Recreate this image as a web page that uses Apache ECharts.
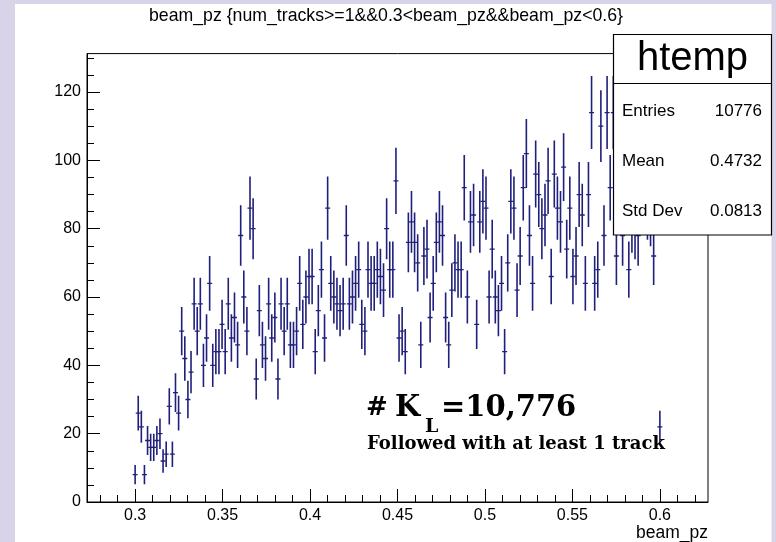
<!DOCTYPE html>
<html>
<head>
<meta charset="utf-8">
<script src="https://cdn.jsdelivr.net/npm/echarts@6/dist/echarts.min.js"></script>
<style>
  html, body { margin: 0; padding: 0; background: #ffffff; }
  #chart { width: 776px; height: 542px; }
</style>
</head>
<body>
<div id="chart"></div>
<script>
// Histogram of beam_pz: bin centres start at FIRST_CENTER, spaced by BIN_WIDTH
const FIRST_CENTER = 0.3;
const BIN_WIDTH = 0.3 / 169;
const X_MIN = 0.272485;
const X_MAX = 0.627515;
const Y_MAX = 131.25;

// Entries per bin
const counts = [
  8, 26, 22, 8, 18, 16, 16, 18, 20, 12,
  14, 28, 14, 32, 26, 50, 42, 30, 38, 58,
  50, 58, 40, 48, 64, 40, 44, 44, 52, 44,
  58, 48, 54, 46, 78, 60, 50, 86, 80, 36,
  56, 46, 42, 58, 48, 54, 36, 58, 50, 58,
  46, 46, 50, 64, 52, 60, 66, 66, 44, 56,
  68, 48, 86, 64, 60, 58, 56, 58, 78, 58,
  60, 64, 68, 52, 50, 68, 64, 64, 68, 66,
  62, 80, 68, 68, 94, 48, 50, 44, 76, 82,
  76, 70, 46, 72, 74, 54, 64, 76, 82, 78,
  54, 46, 62, 70, 68, 68, 92, 60, 82, 84,
  52, 82, 88, 86, 60, 74, 60, 56, 64, 44,
  70, 88, 86, 62, 72, 92, 102, 78, 64, 96,
  90, 80, 84, 94, 66, 96, 86, 82, 98, 74,
  86, 66, 72, 90, 84, 64, 90, 114, 64, 68,
  110, 78, 114, 92, 114, 72, 96, 78, 100, 68,
  82, 80, 78, 92, 104, 86, 84, 72, 96, 22
];

// Axis ticks
const xMajorTicks = [0.3, 0.35, 0.4, 0.45, 0.5, 0.55, 0.6];
const xMinorTicks = [0.28, 0.29, 0.31, 0.32, 0.33, 0.34, 0.36, 0.37, 0.38, 0.39,
  0.41, 0.42, 0.43, 0.44, 0.46, 0.47, 0.48, 0.49, 0.51, 0.52, 0.53, 0.54,
  0.56, 0.57, 0.58, 0.59, 0.61, 0.62];
const yMajorTicks = [0, 20, 40, 60, 80, 100, 120];
const yMinorTicks = [5, 10, 15, 25, 30, 35, 45, 50, 55, 65, 70, 75, 85, 90, 95,
  105, 110, 115, 125, 130];

// Statistics panel
const statsTitle = 'htemp';
const statsNames = ['Entries', 'Mean', 'Std Dev'];
const statsValues = ['10776', '0.4732', '0.0813'];

const titleText = 'beam_pz {num_tracks>=1&&0.3<beam_pz&&beam_pz<0.6}';
const xAxisTitle = 'beam_pz';

const BAR_COLOR = '#1f1f7c';
const PANEL = '#d9d3ea';
const SANS = '"Liberation Sans", Arial, sans-serif';
const SLAB = '"DejaVu Serif", serif';

const binData = counts.map((c, k) => [FIRST_CENTER + k * BIN_WIDTH, c]);

const chart = echarts.init(document.getElementById('chart'), null, { renderer: 'canvas' });

const statsRows = [];
statsNames.forEach((name, i) => {
  const y = 111 + i * 50;
  statsRows.push({ type: 'text', z: 20, style: { x: 622, y: y, text: name, font: '17px ' + SANS, fill: '#000', verticalAlign: 'middle', align: 'left' } });
  statsRows.push({ type: 'text', z: 20, style: { x: 762, y: y, text: statsValues[i], font: '17px ' + SANS, fill: '#000', verticalAlign: 'middle', align: 'right' } });
});

chart.setOption({
  animation: false,
  backgroundColor: '#ffffff',
  grid: {
    left: 87, right: 68, top: 53.6, bottom: 40,
    show: true, borderColor: '#000', borderWidth: 1, backgroundColor: 'transparent'
  },
  xAxis: [
    {
      type: 'value', min: X_MIN, max: X_MAX, position: 'bottom',
      axisLine: { show: true, onZero: false, lineStyle: { color: '#000', width: 1 } },
      axisTick: { show: true, inside: true, length: 13, customValues: xMajorTicks, lineStyle: { color: '#000', width: 1 } },
      axisLabel: { show: true, customValues: xMajorTicks, margin: 6, fontSize: 16, fontFamily: SANS, color: '#000' },
      splitLine: { show: false }
    },
    {
      type: 'value', min: X_MIN, max: X_MAX, position: 'bottom',
      axisLine: { show: false },
      axisTick: { show: true, inside: true, length: 7, customValues: xMinorTicks, lineStyle: { color: '#000', width: 1 } },
      axisLabel: { show: false },
      splitLine: { show: false }
    }
  ],
  yAxis: [
    {
      type: 'value', min: 0, max: Y_MAX, position: 'left',
      axisLine: { show: true, onZero: false, lineStyle: { color: '#000', width: 1 } },
      axisTick: { show: true, inside: true, length: 13, customValues: yMajorTicks, lineStyle: { color: '#000', width: 1 } },
      axisLabel: { show: true, customValues: yMajorTicks, margin: 6, fontSize: 16, fontFamily: SANS, color: '#000' },
      splitLine: { show: false }
    },
    {
      type: 'value', min: 0, max: Y_MAX, position: 'left', offset: 0,
      axisLine: { show: false },
      axisTick: { show: true, inside: true, length: 7, customValues: yMinorTicks, lineStyle: { color: '#000', width: 1 } },
      axisLabel: { show: false },
      splitLine: { show: false }
    }
  ],
  series: [{
    type: 'custom',
    xAxisIndex: 0,
    yAxisIndex: 0,
    clip: true,
    data: binData,
    renderItem(params, api) {
      const x = api.value(0);
      const c = api.value(1);
      const e = Math.sqrt(c);
      const mid = api.coord([x, c]);
      const lo = api.coord([x, c - e]);
      const hi = api.coord([x, c + e]);
      const hw = 2.5;
      return {
        type: 'group',
        children: [
          { type: 'line', shape: { x1: mid[0], y1: lo[1], x2: mid[0], y2: hi[1] }, style: { stroke: BAR_COLOR, lineWidth: 1.6 } },
          { type: 'line', shape: { x1: mid[0] - hw, y1: mid[1], x2: mid[0] + hw, y2: mid[1] }, style: { stroke: BAR_COLOR, lineWidth: 1.3 } }
        ]
      };
    }
  }],
  graphic: [
    // surrounding canvas margin
    { type: 'rect', z: -1, shape: { x: 0, y: 0, width: 15, height: 542 }, style: { fill: PANEL } },
    { type: 'rect', z: -1, shape: { x: 0, y: 0, width: 776, height: 4 }, style: { fill: PANEL } },
    { type: 'rect', z: -1, shape: { x: 771.5, y: 0, width: 5, height: 542 }, style: { fill: PANEL } },
    // title
    { type: 'text', z: 20, style: { x: 386, y: 16, text: titleText, font: '17.7px ' + SANS, fill: '#000', align: 'center', verticalAlign: 'middle' } },
    // x axis title
    { type: 'text', z: 20, style: { x: 708, y: 533, text: xAxisTitle, font: '17.5px ' + SANS, fill: '#000', align: 'right', verticalAlign: 'middle' } },
    // statistics box
    { type: 'rect', z: 19, shape: { x: 613.5, y: 34.5, width: 158, height: 200.5 }, style: { fill: '#fff', stroke: '#000', lineWidth: 1.2 } },
    { type: 'line', z: 20, shape: { x1: 613.5, y1: 83.5, x2: 771.5, y2: 83.5 }, style: { stroke: '#000', lineWidth: 1.2 } },
    { type: 'text', z: 20, style: { x: 692.5, y: 59, text: statsTitle, font: '40px ' + SANS, fill: '#000', align: 'center', verticalAlign: 'middle' } },
    ...statsRows,
    // annotation
    { type: 'text', z: 20, style: { x: 366, y: 408, text: '#', font: 'bold 26px ' + SLAB, fill: '#000', align: 'left', verticalAlign: 'middle' } },
    { type: 'text', z: 20, style: { x: 395, y: 408, text: 'K', font: 'bold 29px ' + SLAB, fill: '#000', align: 'left', verticalAlign: 'middle' } },
    { type: 'text', z: 20, style: { x: 425, y: 427, text: 'L', font: 'bold 19px ' + SLAB, fill: '#000', align: 'left', verticalAlign: 'middle' } },
    { type: 'text', z: 20, style: { x: 441, y: 408, text: '=10,776', font: 'bold 29px ' + SLAB, fill: '#000', align: 'left', verticalAlign: 'middle' } },
    { type: 'text', z: 20, style: { x: 367, y: 444, text: 'Followed with at least 1 track', font: 'bold 18px ' + SLAB, fill: '#000', align: 'left', verticalAlign: 'middle' } }
  ]
});
</script>
</body>
</html>
